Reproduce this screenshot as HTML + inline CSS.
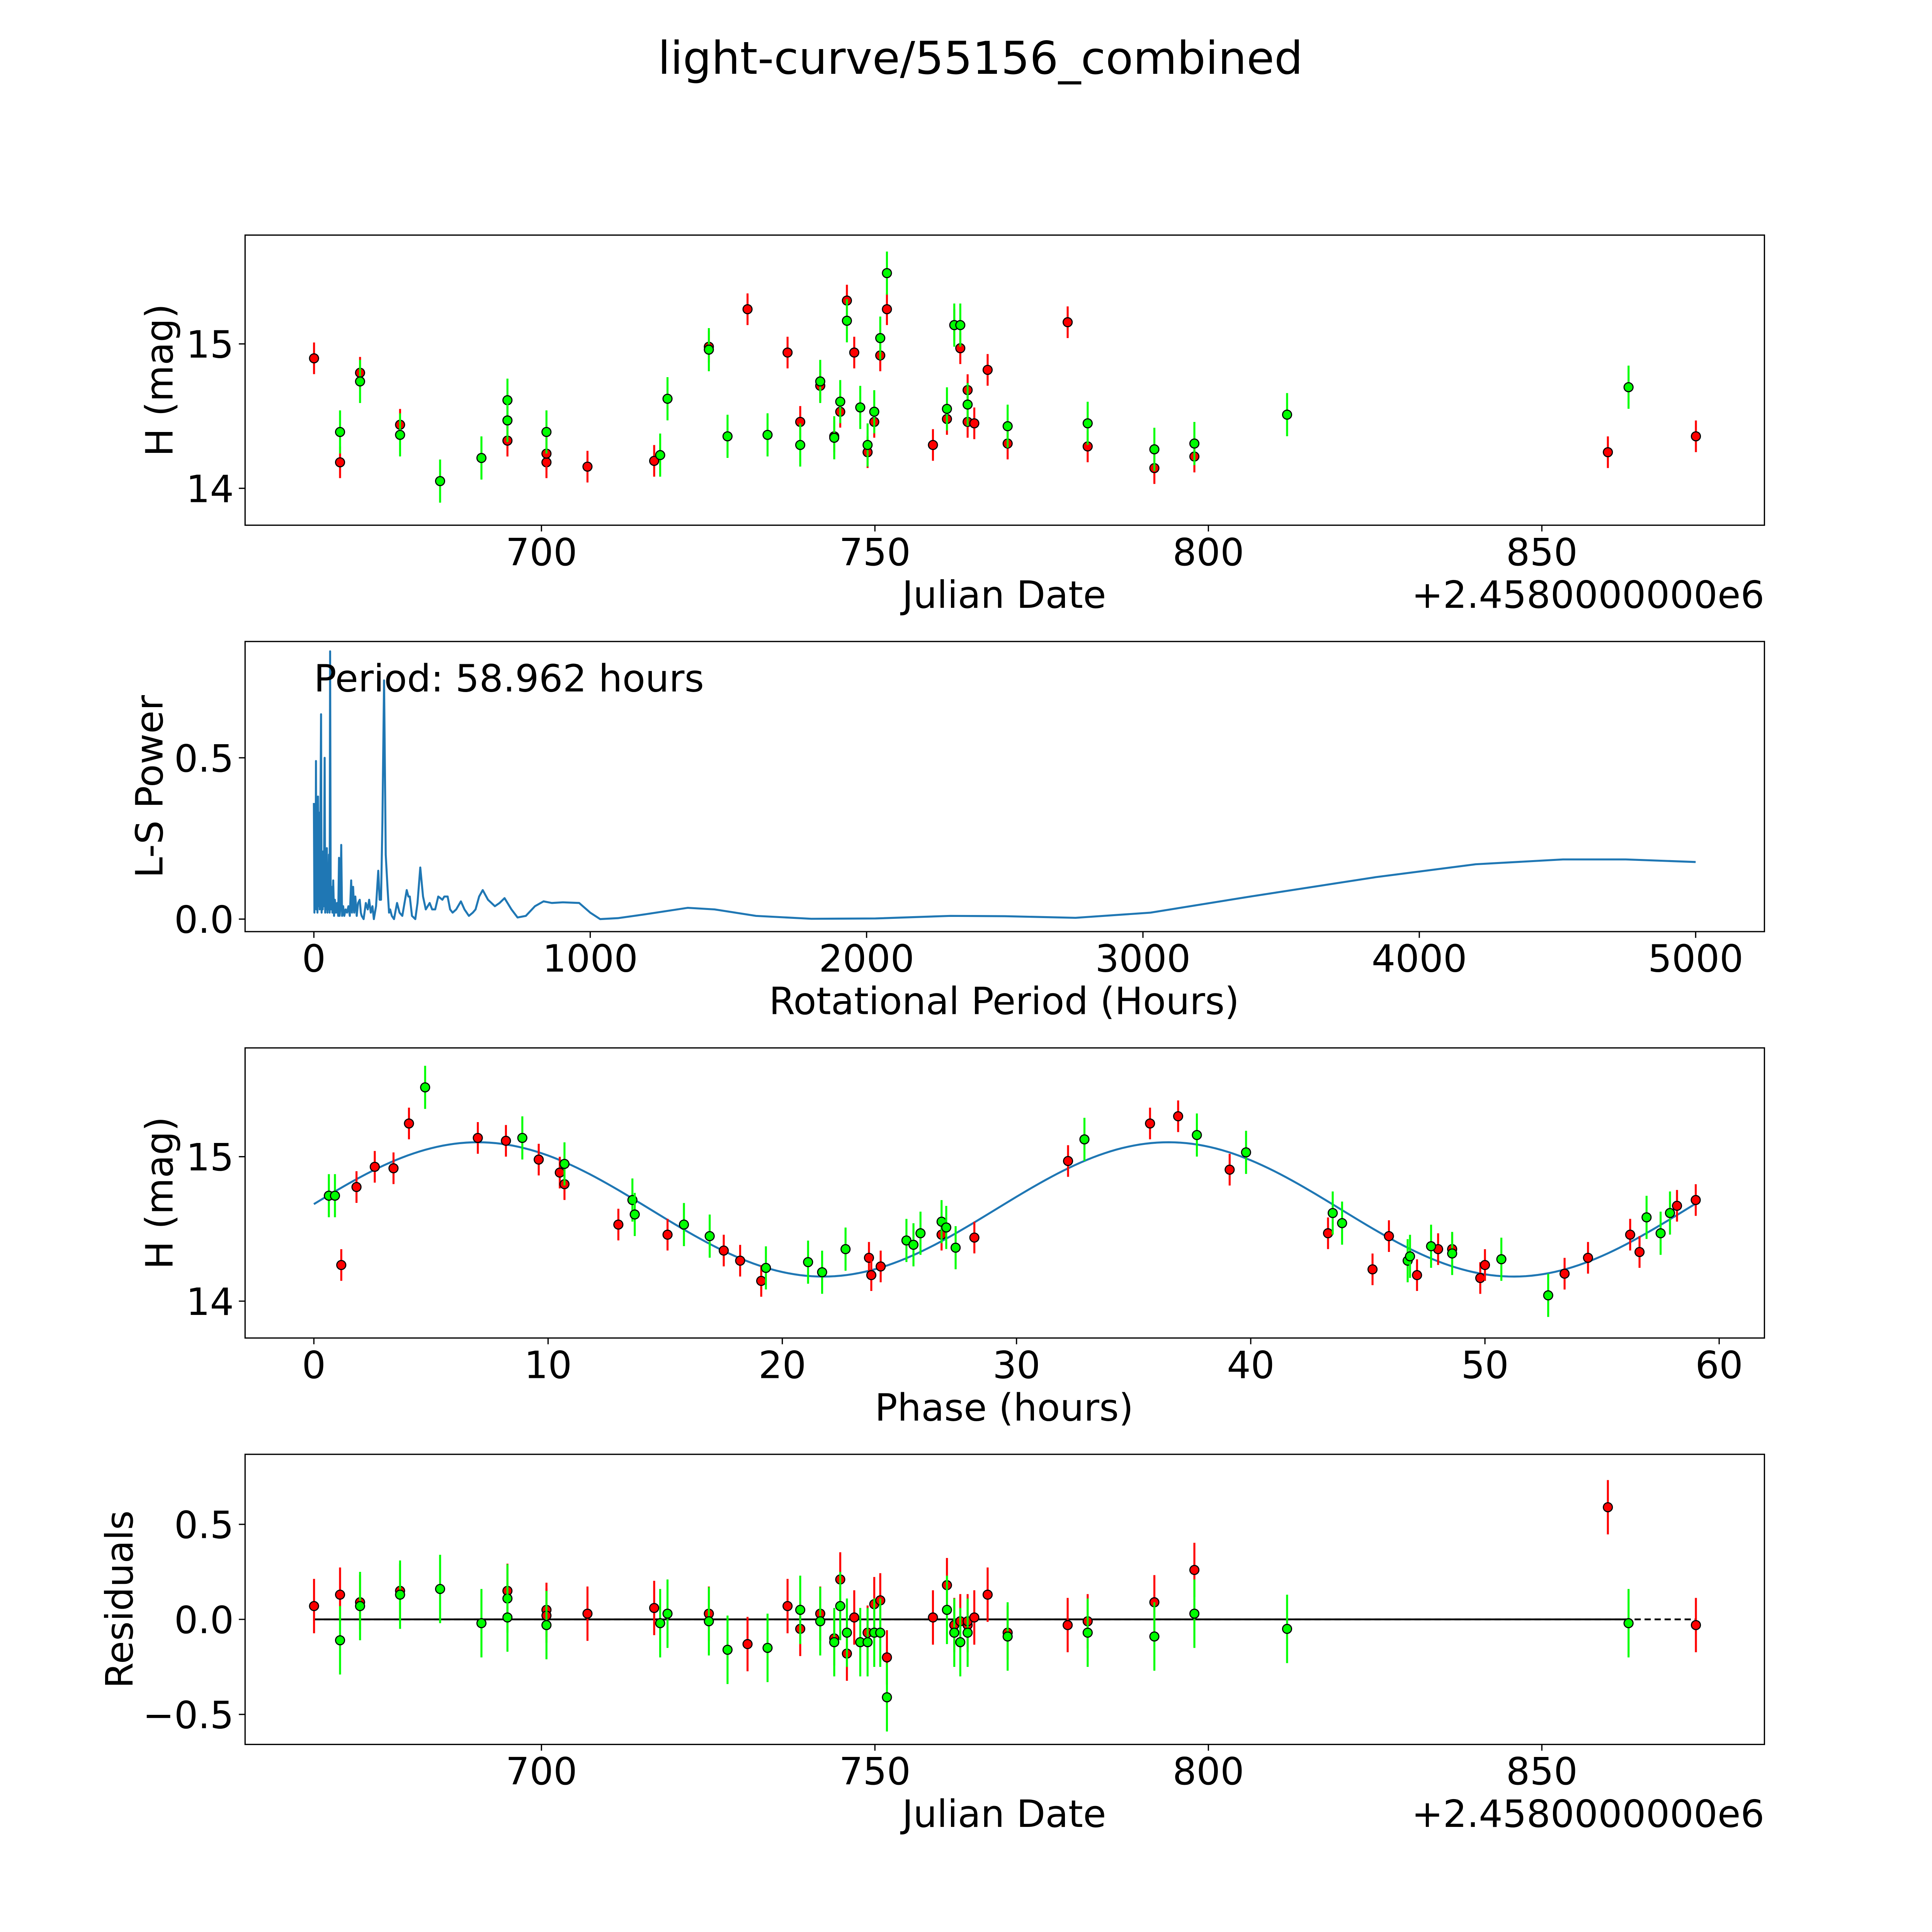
<!DOCTYPE html>
<html><head><meta charset="utf-8"><style>
html,body{margin:0;padding:0;background:#fff;overflow:hidden;width:100vw;height:100vh}
svg{display:block;width:100vw;height:100vh}
text{font-family:"DejaVu Sans","Liberation Sans",sans-serif;fill:#000}
</style></head><body>
<svg id="fig" viewBox="0 0 1545 1545" preserveAspectRatio="xMidYMid meet" xmlns="http://www.w3.org/2000/svg">
<rect width="1545" height="1545" fill="#fff"/>
<text x="784" y="59" font-size="36" text-anchor="middle">light-curve/55156_combined</text>
</svg>
<script>
// ---------- data ----------
const redJD=[665.9,669.8,672.8,678.8,694.9,700.75,700.75,706.9,716.9,725.1,730.9,736.9,738.8,741.8,743.9,744.8,745.8,746.9,748.9,749.9,750.8,751.8,758.7,760.8,761.9,762.8,763.9,763.9,764.9,766.9,769.9,778.9,781.9,791.9,797.9,859.9,873.1];
const redH=[14.90,14.18,14.80,14.44,14.33,14.18,14.24,14.15,14.19,14.98,15.24,14.94,14.46,14.71,14.36,14.53,15.30,14.94,14.25,14.46,14.92,15.24,14.30,14.48,15.13,14.97,14.68,14.46,14.45,14.82,14.31,15.15,14.29,14.14,14.22,14.25,14.36];
const redRes=[0.07,0.13,0.09,0.15,0.15,0.05,0.02,0.03,0.06,0.03,-0.13,0.07,-0.05,0.03,-0.10,0.21,-0.18,0.01,-0.07,0.08,0.10,-0.20,0.01,0.18,-0.03,-0.01,-0.03,-0.01,0.01,0.13,-0.07,-0.03,-0.01,0.09,0.26,0.59,-0.03];
const greenJD=[669.8,672.8,678.8,684.8,691.0,694.9,694.9,700.75,717.8,718.9,725.1,727.9,733.9,738.8,741.8,743.9,744.8,745.8,747.8,748.9,749.9,750.8,751.8,760.8,761.9,762.8,763.9,769.9,781.9,791.9,797.9,811.8,863.0];
const greenH=[14.39,14.74,14.37,14.05,14.21,14.61,14.47,14.39,14.23,14.62,14.96,14.36,14.37,14.30,14.74,14.35,14.60,15.16,14.56,14.30,14.53,15.04,15.49,14.55,15.13,15.13,14.58,14.43,14.45,14.27,14.31,14.51,14.70];
const greenRes=[-0.11,0.07,0.13,0.16,-0.02,0.11,0.01,-0.03,-0.02,0.03,-0.01,-0.16,-0.15,0.05,-0.01,-0.12,0.07,-0.07,-0.12,-0.12,-0.07,-0.07,-0.41,0.05,-0.07,-0.12,-0.07,-0.09,-0.07,-0.09,0.03,-0.05,-0.02];
const redPhase=[1.17,1.82,2.6,3.4,4.06,7.0,8.2,9.6,10.5,10.7,13.0,15.1,17.5,18.2,19.1,23.7,23.8,24.2,26.8,28.2,32.2,35.7,36.9,39.1,43.3,45.9,45.2,47.1,48.0,48.6,49.8,50.0,53.4,54.4,56.2,56.6,58.2,59.0];
const redPhaseH=[14.25,14.79,14.93,14.92,15.23,15.13,15.11,14.98,14.89,14.81,14.53,14.46,14.35,14.28,14.14,14.30,14.18,14.24,14.46,14.44,14.97,15.23,15.28,14.91,14.47,14.45,14.22,14.18,14.36,14.36,14.16,14.25,14.19,14.30,14.46,14.34,14.66,14.70];
const greenPhase=[0.64,0.9,4.75,8.9,10.7,13.6,13.7,15.8,16.9,19.3,21.1,21.7,22.7,25.3,25.6,25.9,26.8,27.0,27.4,32.9,37.7,39.8,43.5,43.9,46.7,46.8,47.7,48.6,50.7,52.7,56.9,57.5,57.9];
const greenPhaseH=[14.73,14.73,15.48,15.13,14.95,14.70,14.60,14.53,14.45,14.23,14.27,14.20,14.36,14.42,14.39,14.47,14.55,14.51,14.37,15.12,15.15,15.03,14.61,14.54,14.28,14.31,14.38,14.33,14.29,14.04,14.58,14.47,14.61];
const redErr=[0.11];
const greenErr=[0.15];
const lsPeriod=[0,2,4,6,7.6,9,11,13,15,17,19,21,23,26,28,30,32,34,36,39,41,43,45,47,49,51,53,55,57,58.8,61,64,67,70,73,76,80,84,88,91,93,96,99,102,106,110,115,120,125,130,135,138,142,146,150,155,160,166,170,173,180,188,195,200,206,212,217,225,233,238,243,248,254,260,267,272,276,282,290,301,310,320,328,336,342,347,355,367,375,385,395,405,412,419,428,439,450,458,465,472,484,493,502,515,532,545,561,575,585,598,611,630,655,672,690,715,737,767,800,831,861,901,960,1000,1036,1100,1200,1353,1450,1600,1800,2032,2303,2500,2756,3027,3389,3842,4204,4520,4747,5000];
const lsPower=[0.36,0.02,0.30,0.05,0.49,0.03,0.27,0.02,0.38,0.04,0.33,0.03,0.22,0.635,0.02,0.18,0.03,0.21,0.04,0.50,0.02,0.16,0.03,0.22,0.02,0.14,0.03,0.20,0.02,0.83,0.03,0.10,0.02,0.12,0.01,0.06,0.02,0.05,0.01,0.19,0.01,0.04,0.23,0.01,0.04,0.01,0.03,0.02,0.04,0.01,0.12,0.02,0.10,0.02,0.07,0.01,0.05,0.06,0.02,0.01,0.00,0.05,0.03,0.06,0.02,0.04,0.00,0.04,0.15,0.06,0.06,0.30,0.74,0.20,0.09,0.02,0.03,0.01,0.0,0.05,0.02,0.01,0.05,0.09,0.07,0.07,0.01,0.0,0.05,0.16,0.07,0.03,0.04,0.05,0.03,0.03,0.07,0.065,0.06,0.07,0.07,0.03,0.02,0.03,0.055,0.03,0.01,0.02,0.03,0.07,0.09,0.06,0.04,0.05,0.065,0.03,0.005,0.01,0.04,0.055,0.05,0.052,0.05,0.02,0.0,0.003,0.015,0.035,0.03,0.01,0.001,0.002,0.01,0.009,0.004,0.02,0.07,0.13,0.17,0.185,0.185,0.177];
const fitMean=[14.635], fitAmp=[0.465], fitPeriod=[29.481], fitPeak=[7.0];
const jdTicks=[700,750,800,850], magTicks=[14,15], powTicks=[0,0.5], perTicks=[0,1000,2000,3000,4000,5000], phaseTicks=[0,10,20,30,40,50,60], resTicks=[-0.5,0,0.5];

// ---------- drawing ----------
const NS='http://www.w3.org/2000/svg', svg=document.getElementById('fig');
function mk(tag,attrs,parent){const e=document.createElementNS(NS,tag);for(const k in attrs)e.setAttribute(k,attrs[k]);(parent||svg).appendChild(e);return e;}
const X0=196,X1=1411;
const jdX=v=>433+(v-700)*800/150;
const magY=(top)=>v=>top+87-(v-15)*115.5;
const perX=v=>251+v*0.221;
const powY=v=>735-v*258;
const phX=v=>251+v*18.73;
const resY=v=>1295-v*152;
const FS=30;

function axes(name,top,xs,xf,xl,ys,yf,yl,yfmt,xlabel,ylabel,ylabx){
  const g=mk('g',{});
  
  
  const fr=mk('rect',{x:X0,y:top,width:X1-X0,height:232,fill:'none',stroke:'#000','stroke-width':1},g);
  
  
  xs.forEach((v,i)=>{const x=xf(v);mk('line',{x1:x,x2:x,y1:top+232,y2:top+237,stroke:'#000','stroke-width':1},g);
    const t=mk('text',{x:x,y:top+264,'font-size':FS,'text-anchor':'middle'},g);t.textContent=xl[i];
    
    });
  ys.forEach((v,i)=>{const y=yf(v);mk('line',{x1:X0-5,x2:X0,y1:y,y2:y,stroke:'#000','stroke-width':1},g);
    const t=mk('text',{x:X0-9,y:y+11,'font-size':FS,'text-anchor':'end'},g);t.textContent=yl[i];
    
    });
  const xt=mk('text',{x:803,y:top+298,'font-size':FS,'text-anchor':'middle'},g);xt.textContent=xlabel;
  
  
  const yt=mk('text',{x:ylabx+10,y:top+116,'font-size':FS,'text-anchor':'middle',transform:`rotate(-90 ${ylabx+10} ${top+116})`},g);yt.textContent=ylabel;
  
  
  return g;
}
function offset(top){const t=mk('text',{x:1411,y:top+298,'font-size':FS,'text-anchor':'end'});t.textContent='+2.4580000000e6';
  
  }
function points(g,xs,ys,xf,yf,err,errScale,col,nm){
  xs.forEach((v,i)=>{const x=xf(v),y=yf(ys[i]);const e=err[0]*errScale;
    const l=mk('line',{x1:x,x2:x,y1:y-e,y2:y+e,stroke:col,'stroke-width':1.6},g);
    
    
    const c=mk('circle',{cx:x,cy:y,r:3.6,fill:col,stroke:'#000','stroke-width':0.9},g);
    
    });
}
// Panel 1
const m1=magY(188);
const g1=axes('lightcurve-panel',188,jdTicks,jdX,jdTicks.map(String),magTicks,m1,magTicks.map(String),null,'Julian Date','H (mag)',128);
offset(188);
points(g1,redJD,redH,jdX,m1,redErr,115,'#ff0000','red-obs');
points(g1,greenJD,greenH,jdX,m1,greenErr,115,'#00ff00','green-obs');
// Panel 2
const g2=axes('periodogram-panel',513,perTicks,perX,perTicks.map(String),powTicks,powY,['0.0','0.5'],null,'Rotational Period (Hours)','L-S Power',120);
const pl=mk('polyline',{points:lsPeriod.map((p,i)=>perX(p)+','+powY(lsPower[i])).join(' '),fill:'none',stroke:'#1f77b4','stroke-width':1.6,'stroke-linejoin':'round'},g2);


const pt=mk('text',{x:251,y:553,'font-size':FS},g2);pt.textContent='Period: 58.962 hours';


// Panel 3
const m3=magY(838);
const g3=axes('phase-panel',838,phaseTicks,phX,phaseTicks.map(String),magTicks,m3,magTicks.map(String),null,'Phase (hours)','H (mag)',128);
const fitT=[];for(let t=0;t<=59;t+=0.25)fitT.push(t);
const fl=mk('polyline',{points:fitT.map(t=>phX(t)+','+m3(fitMean[0]+fitAmp[0]*Math.cos(2*Math.PI*(t-fitPeak[0])/fitPeriod[0]))).join(' '),fill:'none',stroke:'#1f77b4','stroke-width':1.6},g3);


points(g3,redPhase,redPhaseH,phX,m3,redErr,115,'#ff0000','red-phase');
points(g3,greenPhase,greenPhaseH,phX,m3,greenErr,115,'#00ff00','green-phase');
// Panel 4
const g4=axes('residuals-panel',1163,jdTicks,jdX,jdTicks.map(String),resTicks,resY,['\u22120.5','0.0','0.5'],null,'Julian Date','Residuals',96);
offset(1163);
const dl=mk('line',{x1:jdX(665.9),x2:jdX(873.1),y1:resY(0),y2:resY(0),stroke:'#000','stroke-width':1.4,'stroke-dasharray':'5,3'},g4);


const sl=mk('line',{x1:jdX(665.9),x2:jdX(863),y1:resY(0),y2:resY(0),stroke:'#000','stroke-width':1.4},g4);


points(g4,redJD,redRes,jdX,resY,redErr,152*1.3,'#ff0000','red-residual');
points(g4,greenJD,greenRes,jdX,resY,greenErr,152*1.2,'#00ff00','green-residual');
</script>
</body></html>
